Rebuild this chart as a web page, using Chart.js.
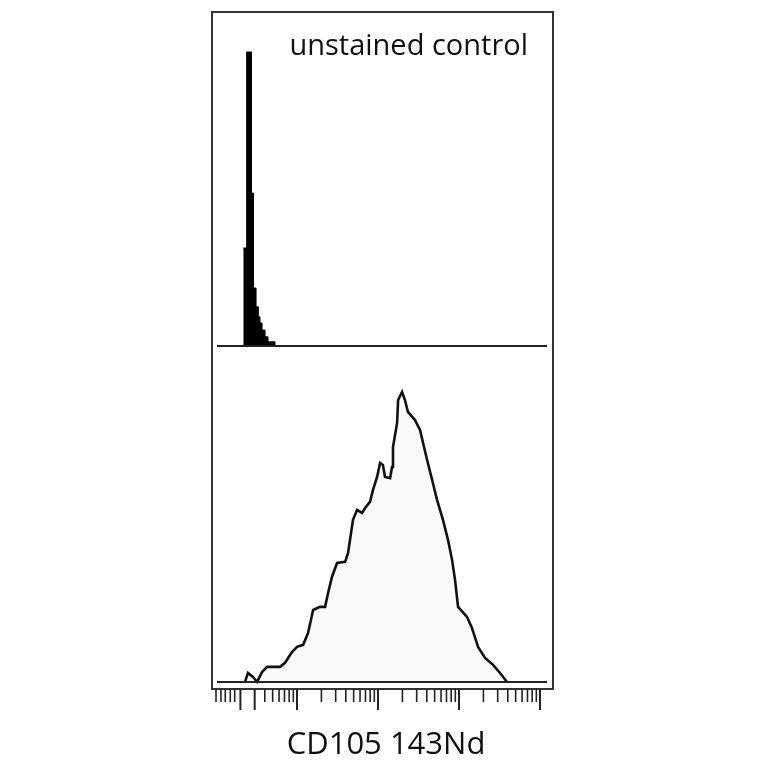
<!DOCTYPE html>
<html>
<head>
<meta charset="utf-8">
<script src="https://cdn.jsdelivr.net/npm/chart.js@4.4.1/dist/chart.umd.min.js"></script>
<style>
  html, body { margin: 0; padding: 0; background: #fff; }
  #wrap { width: 764px; height: 764px; position: relative; }
</style>
</head>
<body>
<div id="wrap"><canvas id="histChart"></canvas></div>
<script>
// unstained control (top panel), bin left edges and counts
const topX = [2.17, 2.39, 2.74, 2.90, 3.12, 3.33, 3.49, 3.70, 4.03, 4.38, 5.35];
const topCount = [33.3, 100, 52, 19.7, 13.3, 9.9, 7.8, 5.4, 3.1, 1.4, 0];

// CD105 143Nd stained (bottom panel)
const botX = [2.28, 2.48, 2.86, 3.21, 3.70, 4.27, 6.17, 7.11, 8.67, 10, 11.9, 13.7, 15.8, 19.2, 22.2,
  24.2, 27.0, 31.2, 39.2, 42.7, 45.1, 49.1, 55.1, 63.4, 69.2, 79.6, 86.7, 97.3, 106, 115, 122, 141,
  149, 153, 172, 177, 198, 215, 234, 286, 330, 360, 403, 465, 535, 634, 731, 820, 893, 973, 1256,
  1445, 1718, 2094, 2630, 3206, 3917];
const botCount = [0, 3.1, 1.7, 0, 3.4, 5.2, 5.2, 6.6, 10.3, 12.1, 12.8, 16.9, 24.8, 25.9, 25.9,
  30.7, 36.2, 41.0, 41.4, 44.5, 49.0, 55.9, 59.3, 58.3, 60.0, 62.1, 66.2, 70.7, 75.5, 74.8, 70.7, 70.3,
  74.1, 81.0, 89.3, 97.2, 100, 97.2, 93.1, 90.3, 86.9, 82.4, 76.6, 69.7, 62.8, 55.9, 49.0, 42.1, 35.2,
  25.9, 22.4, 18.6, 12.1, 8.3, 5.9, 3.1, 0];

// axis tick marks
const majorTicks = [2, 3, 10, 100, 1000, 10000];
const minorTicks = [1, 1.15, 1.3, 1.5, 1.7, 4, 5, 6, 7, 8, 9,
  20, 30, 40, 50, 60, 70, 80, 90,
  200, 300, 400, 500, 600, 700, 800, 900,
  2000, 3000, 4000, 5000, 6000, 7000, 8000, 9000];

const panelLabel = 'unstained control';
const axisLabel = 'CD105 143Nd';

function toPoints(xs, ys) {
  return xs.map((x, i) => ({ x: x, y: ys[i] }));
}

const framePlugin = {
  id: 'frame',
  afterDraw(chart) {
    const ctx = chart.ctx;
    const a = chart.chartArea;
    const xs = chart.scales.x;
    ctx.save();

    // outer box
    ctx.strokeStyle = '#333';
    ctx.lineWidth = 2;
    ctx.strokeRect(a.left, a.top, a.right - a.left, a.bottom - a.top);

    // baselines of both panels
    ctx.strokeStyle = '#222';
    ctx.lineWidth = 2;
    [chart.scales.yTop.getPixelForValue(0), chart.scales.yBot.getPixelForValue(0)].forEach(y => {
      ctx.beginPath();
      ctx.moveTo(a.left + 5, y);
      ctx.lineTo(a.right - 6, y);
      ctx.stroke();
    });

    // tick marks under the box
    ctx.lineWidth = 1.6;
    minorTicks.forEach(v => {
      const x = xs.getPixelForValue(v);
      ctx.beginPath();
      ctx.moveTo(x, a.bottom);
      ctx.lineTo(x, a.bottom + 13);
      ctx.stroke();
    });
    ctx.lineWidth = 2;
    majorTicks.forEach(v => {
      const x = xs.getPixelForValue(v);
      ctx.beginPath();
      ctx.moveTo(x, a.bottom);
      ctx.lineTo(x, a.bottom + 21);
      ctx.stroke();
    });

    // texts
    ctx.fillStyle = '#111';
    ctx.font = '29px "Open Sans"';
    ctx.textAlign = 'right';
    ctx.textBaseline = 'alphabetic';
    ctx.fillText(panelLabel, a.right - 25, 55);
    ctx.textAlign = 'center';
    ctx.font = '31px "Open Sans"';
    ctx.fillText(axisLabel, 386, 754);
    ctx.restore();
  }
};

const ctx = document.getElementById('histChart').getContext('2d');
new Chart(ctx, {
  type: 'line',
  data: {
    datasets: [{
      label: 'unstained',
      data: toPoints(topX, topCount),
      yAxisID: 'yTop',
      stepped: 'before',
      fill: 'origin',
      backgroundColor: '#000',
      borderColor: '#000',
      borderWidth: 1,
      pointRadius: 0
    }, {
      label: 'CD105',
      data: toPoints(botX, botCount),
      yAxisID: 'yBot',
      fill: 'origin',
      backgroundColor: '#fafafa',
      borderColor: '#111',
      borderWidth: 2.6,
      tension: 0,
      pointRadius: 0
    }]
  },
  options: {
    responsive: true,
    maintainAspectRatio: false,
    animation: false,
    layout: { padding: { left: 212, right: 211, top: 12, bottom: 75 } },
    plugins: { legend: { display: false }, tooltip: { enabled: false } },
    scales: {
      x: { type: 'logarithmic', min: 0.892, max: 14460, display: false },
      yTop: { type: 'linear', min: -116.7, max: 113.6, display: false },
      yBot: { type: 'linear', min: -2.43, max: 231.0, display: false }
    }
  },
  plugins: [framePlugin]
});
</script>
</body>
</html>
